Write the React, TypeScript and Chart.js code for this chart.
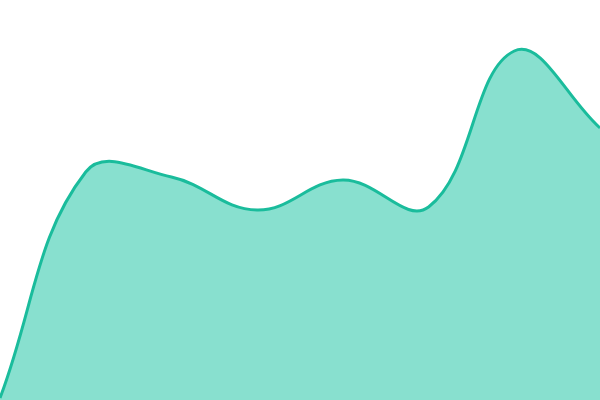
import { useEffect, useRef } from 'react';
import Chart from 'chart.js/auto';

const labels = ['1', '2', '3', '4', '5', '6', '7', '8'];
const values = [2, 228, 223, 190, 220, 193, 349, 272];

export default function App() {
  const canvasRef = useRef<HTMLCanvasElement | null>(null);
  const chartRef = useRef<Chart | null>(null);

  useEffect(() => {
    document.body.style.margin = '0';
    const canvas = canvasRef.current;
    if (!canvas) return;

    chartRef.current = new Chart(canvas, {
      type: 'line',
      data: {
        labels,
        datasets: [
          {
            data: values,
            borderColor: '#1abc9c',
            backgroundColor: '#88e0cf',
            borderWidth: 3,
            pointRadius: 0,
            tension: 0.4,
            fill: 'origin',
          },
        ],
      },
      options: {
        animation: false,
        responsive: true,
        maintainAspectRatio: false,
        layout: { padding: 0 },
        plugins: {
          legend: { display: false },
          tooltip: { enabled: false },
        },
        scales: {
          x: { display: false, offset: false },
          y: { display: false, min: 0, max: 400 },
        },
      },
    });

    return () => {
      if (chartRef.current) {
        chartRef.current.destroy();
        chartRef.current = null;
      }
    };
  }, []);

  return (
    <div style={{ width: 600, height: 400, position: 'relative' }}>
      <canvas ref={canvasRef} />
    </div>
  );
}
